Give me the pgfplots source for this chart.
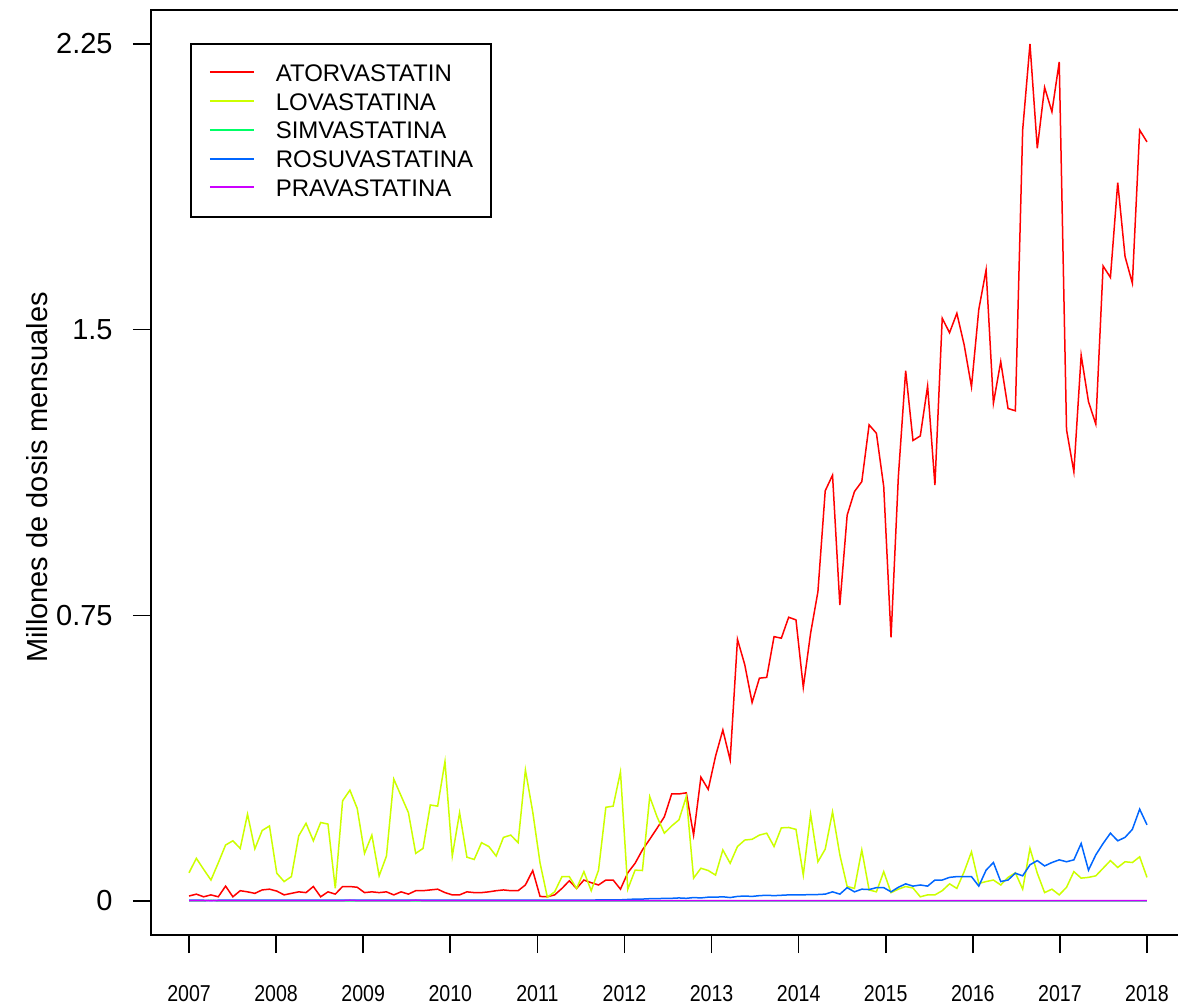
\documentclass[border=0pt]{standalone}
\usepackage{fontspec}
\setmainfont{Liberation Sans}
\newfontfamily\narrowfont[FakeStretch=0.85]{Liberation Sans}
\usepackage{pgfplots}
\usepackage{pgfplotstable}
\pgfplotsset{compat=1.18}
\definecolor{colAtor}{HTML}{FF0000}
\definecolor{colLova}{HTML}{CCFF00}
\definecolor{colSimv}{HTML}{00FF66}
\definecolor{colRosu}{HTML}{0066FF}
\definecolor{colPrav}{HTML}{CC00FF}
\pgfplotstableread{
i A L S R P
0 0.013 0.074 0 0.002 0.001
1 0.018 0.112 0 0.002 0.001
2 0.011 0.083 0 0.002 0.001
3 0.016 0.055 0.002 0.001 0.001
4 0.011 0.100 0 0.002 0.001
5 0.039 0.147 0 0.002 0.001
6 0.011 0.158 0 0.002 0.001
7 0.027 0.138 0 0.002 0.001
8 0.024 0.228 0 0.002 0.001
9 0.020 0.137 0 0.002 0.001
10 0.029 0.185 0 0.002 0.001
11 0.031 0.197 0 0.002 0.001
12 0.026 0.073 0 0.002 0.001
13 0.016 0.051 0 0.002 0.001
14 0.020 0.064 0 0.002 0.001
15 0.024 0.171 0 0.002 0.001
16 0.022 0.204 0 0.002 0.001
17 0.038 0.158 0 0.002 0.001
18 0.011 0.206 0 0.002 0.001
19 0.024 0.202 0 0.002 0.001
20 0.018 0.033 0 0.002 0.001
21 0.038 0.263 0 0.002 0.001
22 0.038 0.291 0 0.002 0.002
23 0.036 0.243 0 0.002 0.001
24 0.022 0.125 0 0.002 0.001
25 0.024 0.173 0 0.002 0.001
26 0.022 0.066 0 0.002 0.001
27 0.024 0.118 0 0.002 0.001
28 0.016 0.320 0 0.002 0.001
29 0.024 0.276 0 0.002 0.001
30 0.018 0.232 0 0.002 0.001
31 0.027 0.125 0 0.002 0.002
32 0.027 0.138 0 0.002 0.001
33 0.029 0.252 0 0.002 0.001
34 0.031 0.249 0 0.002 0.001
35 0.022 0.366 0 0.002 0.001
36 0.016 0.118 0 0.002 0.001
37 0.016 0.232 0 0.002 0.001
38 0.024 0.115 0 0.002 0.001
39 0.022 0.109 0 0.002 0.001
40 0.022 0.153 0 0.002 0.001
41 0.024 0.143 0 0.002 0.001
42 0.027 0.118 0 0.002 0.001
43 0.029 0.167 0 0.002 0.001
44 0.027 0.173 0 0.002 0.001
45 0.027 0.153 0 0.002 0.001
46 0.042 0.344 0 0.002 0.001
47 0.080 0.234 0 0.002 0.001
48 0.012 0.100 0 0.002 0.001
49 0.011 0.010 0 0.002 0.001
50 0.016 0.024 0 0.002 0.001
51 0.033 0.064 0 0.002 0.001
52 0.053 0.064 0 0.002 0.001
53 0.033 0.033 0 0.002 0.001
54 0.055 0.077 0 0.002 0.001
55 0.048 0.027 0 0.002 0.001
56 0.042 0.081 0 0.003 0.001
57 0.055 0.246 0 0.003 0.001
58 0.055 0.249 0 0.003 0.001
59 0.031 0.339 0 0.003 0.001
60 0.074 0.031 0 0.004 0.001
61 0.099 0.081 0 0.005 0.001
62 0.134 0.080 0 0.005 0.001
63 0.162 0.274 0 0.006 0.001
64 0.191 0.221 0 0.006 0.001
65 0.221 0.178 0 0.007 0.001
66 0.281 0.197 0 0.007 0.001
67 0.281 0.213 0 0.008 0.001
68 0.284 0.274 0 0.007 0.001
69 0.173 0.060 0 0.009 0.001
70 0.325 0.086 0 0.008 0.001
71 0.293 0.080 0 0.010 0.001
72 0.380 0.068 0 0.010 0.001
73 0.449 0.134 0 0.011 0.001
74 0.370 0.099 0 0.009 0.001
75 0.687 0.143 0 0.012 0.001
76 0.620 0.160 0 0.013 0.001
77 0.521 0.162 0 0.012 0.001
78 0.585 0.173 0 0.014 0.001
79 0.587 0.178 0 0.015 0.001
80 0.694 0.143 0 0.014 0.001
81 0.690 0.192 0 0.015 0.001
82 0.745 0.193 0 0.016 0.001
83 0.738 0.188 0 0.016 0.001
84 0.561 0.068 0 0.016 0.001
85 0.703 0.228 0 0.017 0.001
86 0.812 0.103 0 0.017 0.001
87 1.077 0.136 0 0.018 0.001
88 1.118 0.234 0 0.024 0.001
89 0.777 0.121 0 0.018 0.001
90 1.013 0.038 0 0.035 0.001
91 1.075 0.033 0 0.024 0.001
92 1.101 0.134 0 0.031 0.001
93 1.250 0.029 0 0.030 0.001
94 1.228 0.024 0 0.035 0.001
95 1.088 0.077 0 0.035 0.001
96 0.692 0.022 0 0.024 0.001
97 1.114 0.031 0 0.036 0.001
98 1.392 0.038 0 0.045 0.001
99 1.209 0.034 0 0.039 0.001
100 1.221 0.011 0 0.042 0.001
101 1.352 0.016 0 0.039 0.001
102 1.092 0.016 0 0.055 0.001
103 1.530 0.027 0 0.055 0.001
104 1.492 0.045 0 0.062 0.001
105 1.543 0.033 0 0.064 0.001
106 1.460 0.077 0 0.064 0.001
107 1.350 0.129 0 0.064 0.001
108 1.553 0.046 0 0.039 0.001
109 1.657 0.051 0 0.081 0.001
110 1.307 0.055 0 0.101 0.001
111 1.416 0.042 0 0.051 0.001
112 1.293 0.062 0 0.055 0.001
113 1.287 0.074 0 0.073 0.001
114 2.024 0.031 0 0.066 0.001
115 2.250 0.138 0 0.095 0.001
116 1.976 0.073 0 0.106 0.001
117 2.136 0.022 0 0.092 0.001
118 2.072 0.031 0 0.101 0.001
119 2.203 0.016 0 0.108 0.001
120 1.237 0.036 0 0.103 0.001
121 1.127 0.077 0 0.108 0.001
122 1.433 0.060 0 0.151 0.001
123 1.311 0.062 0 0.081 0.001
124 1.252 0.066 0 0.121 0.001
125 1.667 0.086 0 0.151 0.001
126 1.637 0.106 0 0.178 0.001
127 1.886 0.088 0 0.158 0.001
128 1.692 0.103 0 0.167 0.001
129 1.622 0.101 0 0.188 0.001
130 2.024 0.116 0 0.241 0.001
131 1.993 0.062 0 0.200 0.001
}\datatable
\begin{document}
\begin{tikzpicture}
\begin{axis}[
  at={(75.5pt,35.5pt)}, anchor=south west,
  width=517pt, height=462.5pt, scale only axis,
  xmin=-5.2, xmax=136.2, ymin=-0.0893, ymax=2.3393,
  xtick={0,11.909,23.818,35.727,47.636,59.545,71.455,83.364,95.273,107.182,119.091,131},
  xticklabels={2007,2008,2009,2010,2011,2012,2013,2014,2015,2016,2017,2018},
  ytick={0,0.75,1.5,2.25}, yticklabels={0,0.75,1.5,2.25},
  tick align=outside, tick pos=left, major tick length=9pt,
  every tick/.style={black, line width=0.8pt},
  axis line style={line width=0.8pt},
  /pgf/number format/assume math mode=true,
  yticklabel style={font=\fontsize{14.5}{17}\selectfont, inner sep=0pt, anchor=east, xshift=-10pt},
  xticklabel style={font=\narrowfont\fontsize{11.5}{13}\selectfont, inner sep=0pt, anchor=north, yshift=-16pt},
  ylabel={Millones de dosis mensuales},
  every axis y label/.style={at={(axis description cs:-0.1103,0.4946)}, rotate=90, anchor=center,
    font=\fontsize{14.5}{17}\selectfont},
  legend cell align=left,
  legend style={at={(axis description cs:0.0377,0.9643)}, anchor=north west,
    draw=black, line width=0.8pt, inner xsep=9pt, inner ysep=10.2pt,
    row sep=5.775pt, column sep=10.5pt, font=\fontsize{12}{14}\selectfont,
    nodes={inner sep=0pt, text height=8.6pt, text depth=0pt}},
  legend image code/.code={\draw[#1, line width=1pt] (0pt,0.25pt) -- (22pt,0.25pt);},
  every axis plot/.append style={line width=0.75pt},
]
\addplot[color=colAtor, no markers] table[x=i, y=A] {\datatable};
\addlegendentry{ATORVASTATIN}
\addplot[color=colLova, no markers] table[x=i, y=L] {\datatable};
\addlegendentry{LOVASTATINA}
\addplot[color=colSimv, no markers] table[x=i, y=S] {\datatable};
\addlegendentry{SIMVASTATINA}
\addplot[color=colRosu, no markers] table[x=i, y=R] {\datatable};
\addlegendentry{ROSUVASTATINA}
\addplot[color=colPrav, no markers] table[x=i, y=P] {\datatable};
\addlegendentry{PRAVASTATINA}
\end{axis}
\pgfresetboundingbox
\useasboundingbox (0pt,0pt) rectangle (589pt,503pt);
\end{tikzpicture}
\end{document}
